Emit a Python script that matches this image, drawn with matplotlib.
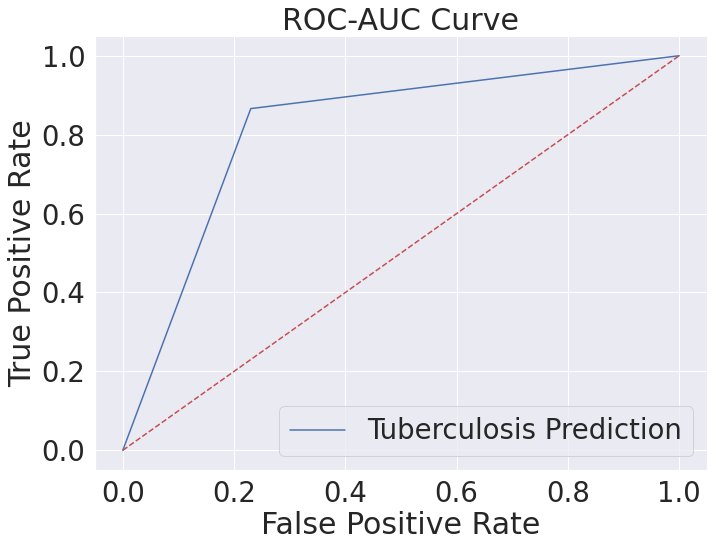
import matplotlib
matplotlib.use("Agg")
import matplotlib.pyplot as plt
import seaborn as sns

sns.set(font_scale=2.5)

fpr = [0.0, 0.23, 1.0]
tpr = [0.0, 0.866, 1.0]
diag_x = [0, 1]
diag_y = [0, 1]
series_label = "Tuberculosis Prediction"

fig = plt.figure(figsize=(714/72, 548/72), dpi=72)
ax = fig.add_axes([95/714, 1 - 470/548, (707-95)/714, (470-36)/548])
ax.plot(fpr, tpr, color="b", label=series_label)
ax.plot(diag_x, diag_y, "r--")
ax.set_title("ROC-AUC Curve")
ax.set_xlabel("False Positive Rate")
ax.set_ylabel("True Positive Rate")
ax.legend(loc="lower right")
fig.savefig("out.png", dpi=72)
